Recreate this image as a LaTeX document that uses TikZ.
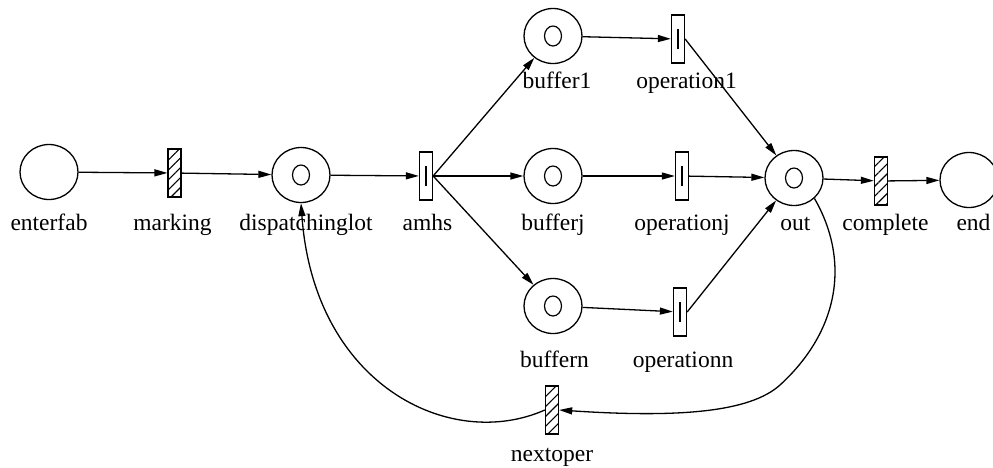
\documentclass[tikz,border=0pt]{standalone}
\usepackage{fontspec}
\setmainfont{Liberation Serif}
\usepackage{tikz}
\usetikzlibrary{arrows.meta}
\usetikzlibrary{shapes.geometric}
\usetikzlibrary{patterns.meta}

\begin{document}
\begin{tikzpicture}[x=1pt, y=-1pt, line width=1.3pt,
    place/.style={draw, ellipse, minimum width=58pt, minimum height=55pt, inner sep=0pt},
    token/.style={place, path picture={\draw[line width=1.2pt] (path picture bounding box.center) ellipse (8.5pt and 10pt);}},
    trans/.style={draw, rectangle, minimum width=13pt, minimum height=48pt, inner sep=0pt},
    bar/.style={trans, path picture={\draw (path picture bounding box.center) ++(0,-10pt) -- ++(0,20pt);}},
    hatch/.style={trans, pattern={Lines[angle=45,distance=7pt,line width=1.1pt]}},
    lbl/.style={anchor=base, inner sep=0pt, font=\fontsize{23.5}{28}\selectfont},
    arc/.style={-{Triangle[length=13pt,width=7pt]}}]
      \useasboundingbox (0, 0) rectangle (993, 467);
      % places and transitions
      \node[place] (enterfab) at (49, 172) {};
      \node[hatch] (marking) at (174.5, 173) {};
      \node[token] (dispatchinglot) at (301, 175) {};
      \node[bar] (amhs) at (426, 176) {};
      \node[token] (buffer1) at (553, 36) {};
      \node[token] (bufferj) at (553, 176) {};
      \node[token] (buffern) at (553, 306) {};
      \node[bar] (operation1) at (678, 39) {};
      \node[bar] (operationj) at (682, 176) {};
      \node[bar] (operationn) at (680, 312) {};
      \node[token] (out) at (794, 178) {};
      \node[hatch] (complete) at (881, 181) {};
      \node[place] (end) at (969, 180) {};
      \node[hatch] (nextoper) at (552, 410) {};
      % names
      \node[lbl] (enterfab-l) at (49, 230) {enterfab};
      \node[lbl] (marking-l) at (172.5, 230) {marking};
      \node[lbl] (dispatchinglot-l) at (306, 230) {dispatchinglot};
      \node[lbl] (amhs-l) at (427.5, 230) {amhs};
      \node[lbl] (bufferj-l) at (553, 230) {bufferj};
      \node[lbl] (operationj-l) at (682, 230) {operationj};
      \node[lbl] (out-l) at (795.5, 230) {out};
      \node[lbl] (complete-l) at (885.5, 230) {complete};
      \node[lbl] (end-l) at (973.5, 230) {end};
      \node[lbl] (buffer1-l) at (557, 88) {buffer1};
      \node[lbl] (operation1-l) at (686.5, 88) {operation1};
      \node[lbl] (buffern-l) at (554.5, 367) {buffern};
      \node[lbl] (operationn-l) at (683, 367) {operationn};
      \node[lbl] (nextoper-l) at (552, 461) {nextoper};
      % arcs
      \draw[arc] (enterfab) -- (marking);
      \draw[arc] (marking) -- (dispatchinglot);
      \draw[arc] (dispatchinglot) -- (amhs);
      \draw[arc] (amhs.east) -- (buffer1);
      \draw[arc] (amhs.east) -- (bufferj);
      \draw[arc] (amhs.east) -- (buffern);
      \draw[arc] (buffer1) -- (operation1);
      \draw[arc] (bufferj) -- (operationj);
      \draw[arc] (buffern) -- (operationn);
      \draw[arc] (operation1.east) -- (out);
      \draw[arc] (operationj) -- (out);
      \draw[arc] (operationn.east) -- (out);
      \draw[arc] (out) -- (complete);
      \draw[arc] (complete) -- (end);
      \draw[arc] (out.-45) .. controls (850, 260) and (840, 330) .. (780, 385)
        .. controls (750, 412) and (680, 418) .. (nextoper.east);
      \draw[arc] (nextoper.west) .. controls (450, 452) and (314, 385) .. (dispatchinglot.south);
    \end{tikzpicture}
\end{document}
